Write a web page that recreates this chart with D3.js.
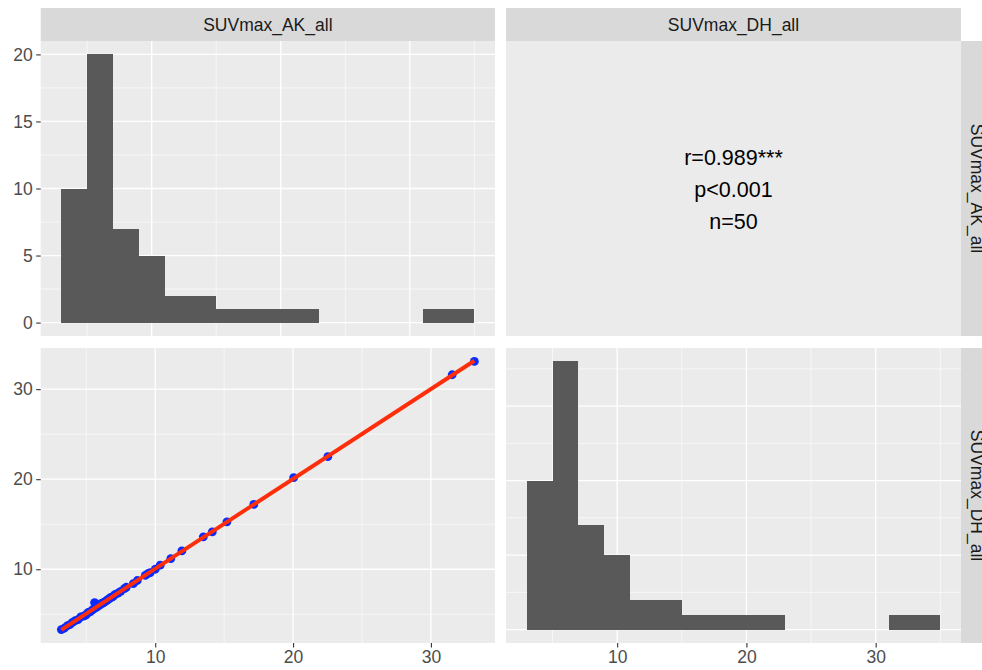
<!DOCTYPE html>
<html><head><meta charset="utf-8">
<script src="https://cdn.jsdelivr.net/npm/d3@7"></script>
<style>body{margin:0;background:#fff}svg{display:block}text{font-family:"Liberation Sans",Arial,sans-serif}</style>
</head><body><div id="chart"></div>
<script>
// ---------- data ----------
const varNames = ["SUVmax_AK_all", "SUVmax_DH_all"];
const binEdges = [3,5,7,9,11,13,15,17,19,21,23,25,27,29,31,33,35];
const countsAK = [10,20,7,5,2,2,1,1,1,1,0,0,0,0,1,1];
const countsDH = [10,18,7,5,2,2,1,1,1,1,0,0,0,0,1,1];
const ak = [3.19,3.4,3.6,3.8,4.0,4.2,4.4,4.6,4.8,4.95,
            5.05,5.15,5.3,5.45,5.6,5.6,5.75,5.9,6.0,6.1,6.2,6.3,6.45,6.55,6.65,6.75,6.85,6.95,
            7.1,7.3,7.5,7.76,7.9,8.41,8.7,
            9.28,9.5,9.64,10.0,10.36,
            11.13,11.93,13.49,14.14,15.2,17.15,20.04,22.52,31.54,33.15];
const dh = [3.3,3.45,3.7,3.85,4.1,4.3,4.4,4.7,4.8,4.9,
            5.05,5.2,5.3,5.5,6.3,5.65,5.8,5.95,6.05,6.2,6.25,6.35,6.5,6.6,6.7,6.85,6.9,7.0,
            7.2,7.35,7.55,7.85,8.0,8.4,8.75,
            9.33,9.55,9.63,10.0,10.45,
            11.19,12.04,13.6,14.15,15.27,17.2,20.17,22.5,31.6,33.08];
const corText = ["r=0.989***", "p<0.001", "n=50"];
const histTicksY = [0,5,10,15,20];
const scatTicks = [10,20,30];

// ---------- layout ----------
const W = 982, H = 670;
const colX = [[40.7,495],[506,961]];
const rowY = [[41,336],[348,643]];
const stripTop = [8,41], stripRight = [961,994];
const svg = d3.select("#chart").append("svg").attr("width",W).attr("height",H);
const fontSize = 17.5;

function expand(dom, m=0.05){ const r = dom[1]-dom[0]; return [dom[0]-r*m, dom[1]+r*m]; }

function panelBg(c,r){
  svg.append("rect").attr("x",colX[c][0]).attr("y",rowY[r][0])
    .attr("width",colX[c][1]-colX[c][0]).attr("height",rowY[r][1]-rowY[r][0]).attr("fill","#EBEBEB");
}
function grid(c,r,x,y,xMaj,xMin,yMaj,yMin){
  const g = svg.append("g");
  const x0=colX[c][0],x1=colX[c][1],y0=rowY[r][0],y1=rowY[r][1];
  xMin.forEach(v=>g.append("line").attr("x1",x(v)).attr("x2",x(v)).attr("y1",y0).attr("y2",y1).attr("stroke","#fff").attr("stroke-width",0.6));
  yMin.forEach(v=>g.append("line").attr("y1",y(v)).attr("y2",y(v)).attr("x1",x0).attr("x2",x1).attr("stroke","#fff").attr("stroke-width",0.6));
  xMaj.forEach(v=>g.append("line").attr("x1",x(v)).attr("x2",x(v)).attr("y1",y0).attr("y2",y1).attr("stroke","#fff").attr("stroke-width",1.3));
  yMaj.forEach(v=>g.append("line").attr("y1",y(v)).attr("y2",y(v)).attr("x1",x0).attr("x2",x1).attr("stroke","#fff").attr("stroke-width",1.3));
}
function styleAxis(g){
  g.select(".domain").remove();
  g.selectAll(".tick line").attr("stroke","#333333").attr("stroke-width",1.1);
  g.selectAll(".tick text").attr("fill","#4D4D4D").style("font-size",fontSize+"px")
   .style("font-family",'"Liberation Sans",Arial,sans-serif');
}
const histDomX = expand([binEdges[0], binEdges[binEdges.length-1]]);

// ---------- top-left: histogram AK ----------
{
  const x = d3.scaleLinear().domain(histDomX).range(colX[0]);
  const y = d3.scaleLinear().domain(expand([0, d3.max(countsAK)])).range([rowY[0][1], rowY[0][0]]);
  panelBg(0,0);
  grid(0,0,x,y,[10,20,30],[5,15,25,35],histTicksY,[2.5,7.5,12.5,17.5]);
  svg.append("g").attr("shape-rendering","crispEdges").selectAll("rect").data(countsAK).join("rect")
    .attr("x",(d,i)=>x(binEdges[i])).attr("width",(d,i)=>x(binEdges[i+1])-x(binEdges[i]))
    .attr("y",d=>y(d)).attr("height",d=>y(0)-y(d)).attr("fill","#595959");
  const ax = svg.append("g").attr("transform",`translate(${colX[0][0]},0)`)
    .call(d3.axisLeft(y).tickValues(histTicksY).tickSize(4.5).tickPadding(3.5));
  styleAxis(ax);
}
// ---------- top-right: correlation ----------
{
  panelBg(1,0);
  const cx = (colX[1][0]+colX[1][1])/2, cy = (rowY[0][0]+rowY[0][1])/2;
  const yy = d3.scaleLinear().domain([0, corText.length-1]).range([cy-31.5, cy+32.5]);
  svg.append("g").selectAll("text").data(corText).join("text")
    .attr("x",cx).attr("y",(d,i)=>yy(i)).attr("dy","0.36em").attr("text-anchor","middle")
    .attr("fill","#000").style("font-size","21.5px").text(d=>d);
}
// ---------- bottom-left: scatter ----------
{
  const x = d3.scaleLinear().domain(expand(d3.extent(ak))).range(colX[0]);
  const y = d3.scaleLinear().domain(expand(d3.extent(dh))).range([rowY[1][1], rowY[1][0]]);
  panelBg(0,1);
  grid(0,1,x,y,scatTicks,[5,15,25],scatTicks,[5,15,25]);
  const g = svg.append("g");
  g.selectAll("circle").data(ak).join("circle")
    .attr("cx",d=>x(d)).attr("cy",(d,i)=>y(dh[i])).attr("r",4.4).attr("fill","#0A2BFF");
  // least squares line
  const mx = d3.mean(ak), my = d3.mean(dh);
  const b = d3.sum(ak.map((v,i)=>(v-mx)*(dh[i]-my))) / d3.sum(ak.map(v=>(v-mx)*(v-mx)));
  const a = my - b*mx;
  const ext = d3.extent(ak);
  g.append("line").attr("x1",x(ext[0])).attr("y1",y(a+b*ext[0])).attr("x2",x(ext[1])).attr("y2",y(a+b*ext[1]))
    .attr("stroke","#FF2E0A").attr("stroke-width",3.9);
  const axL = svg.append("g").attr("transform",`translate(${colX[0][0]},0)`)
    .call(d3.axisLeft(y).tickValues(scatTicks).tickSize(4.5).tickPadding(3.5));
  styleAxis(axL);
  const axB = svg.append("g").attr("transform",`translate(0,${rowY[1][1]})`)
    .call(d3.axisBottom(x).tickValues(scatTicks).tickSize(4.5).tickPadding(3));
  styleAxis(axB);
}
// ---------- bottom-right: histogram DH ----------
{
  const x = d3.scaleLinear().domain(histDomX).range(colX[1]);
  const y = d3.scaleLinear().domain(expand([0, d3.max(countsDH)])).range([rowY[1][1], rowY[1][0]]);
  panelBg(1,1);
  grid(1,1,x,y,[10,20,30],[5,15,25,35],[0,5,10,15],[2.5,7.5,12.5,17.5]);
  svg.append("g").attr("shape-rendering","crispEdges").selectAll("rect").data(countsDH).join("rect")
    .attr("x",(d,i)=>x(binEdges[i])).attr("width",(d,i)=>x(binEdges[i+1])-x(binEdges[i]))
    .attr("y",d=>y(d)).attr("height",d=>y(0)-y(d)).attr("fill","#595959");
  const axB = svg.append("g").attr("transform",`translate(0,${rowY[1][1]})`)
    .call(d3.axisBottom(x).tickValues(scatTicks).tickSize(4.5).tickPadding(3));
  styleAxis(axB);
}
// ---------- strips ----------
varNames.forEach((name,c)=>{
  svg.append("rect").attr("x",colX[c][0]).attr("y",stripTop[0]).attr("width",colX[c][1]-colX[c][0])
    .attr("height",stripTop[1]-stripTop[0]).attr("fill","#D9D9D9");
  svg.append("text").attr("x",(colX[c][0]+colX[c][1])/2).attr("y",(stripTop[0]+stripTop[1])/2)
    .attr("dy","0.36em").attr("text-anchor","middle").attr("fill","#1A1A1A").style("font-size",fontSize+"px").text(name);
});
varNames.forEach((name,r)=>{
  svg.append("rect").attr("x",stripRight[0]).attr("y",rowY[r][0]).attr("width",stripRight[1]-stripRight[0])
    .attr("height",rowY[r][1]-rowY[r][0]).attr("fill","#D9D9D9");
  const cx = (stripRight[0]+stripRight[1])/2, cy=(rowY[r][0]+rowY[r][1])/2;
  svg.append("text").attr("transform",`translate(${cx},${cy}) rotate(90)`)
    .attr("dy","0.36em").attr("text-anchor","middle").attr("fill","#1A1A1A").style("font-size",fontSize+"px").text(name);
});
</script></body></html>
